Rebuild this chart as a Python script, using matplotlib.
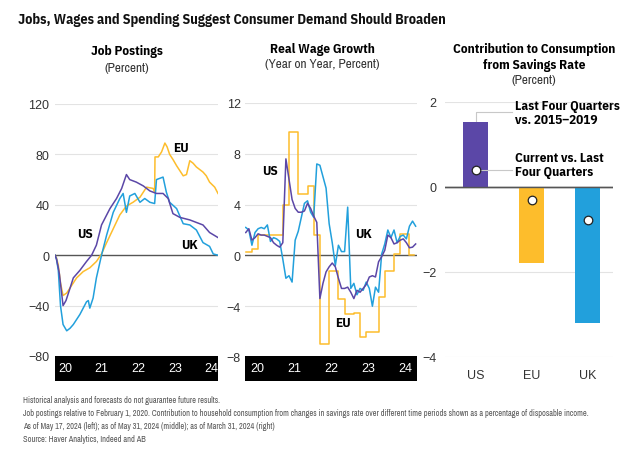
import matplotlib
matplotlib.use("Agg")
import matplotlib.pyplot as plt

plt.rcParams['font.family'] = ['Archivo Narrow', 'Liberation Sans', 'DejaVu Sans']
plt.rcParams['axes.unicode_minus'] = True
TICKFONT = ['Liberation Sans', 'DejaVu Sans']
BOLDFONT = ['IBM Plex Sans Condensed', 'Liberation Sans', 'DejaVu Sans']

PURPLE = '#5b47a7'
YELLOW = '#fdbd2c'
BLUE = '#22a0dc'
GRID = '#e3e3e3'
ZERO = '#555555'
TXT = '#333333'

# --- Job postings, percent vs Feb 1 2020 (x in decimal years) ---
us_jobs_t = [2020.03, 2020.07, 2020.12, 2020.15, 2020.25, 2020.33, 2020.42, 2020.53, 2020.71,
             2020.89, 2021.03, 2021.16, 2021.30, 2021.53, 2021.71, 2021.85, 2021.98, 2022.07,
             2022.25, 2022.44, 2022.62, 2022.80, 2022.98, 2023.12, 2023.25, 2023.44, 2023.71,
             2023.89, 2024.07, 2024.25, 2024.48]
us_jobs = [0, -3, -10, -15, -40, -36, -28, -18, -12, -5, 0, 8, 24, 37, 45, 53, 64, 60,
           58, 55, 51, 49, 49, 45, 33, 30, 28, 26, 24, 18, 14]

eu_jobs_t = [2020.03, 2020.07, 2020.12, 2020.18, 2020.25, 2020.35, 2020.44, 2020.62, 2020.80,
             2020.98, 2021.16, 2021.30, 2021.44, 2021.62, 2021.80, 2021.98, 2022.16, 2022.35,
             2022.53, 2022.71, 2022.75, 2022.76, 2022.85, 2022.94, 2023.03, 2023.09, 2023.16,
             2023.25, 2023.35, 2023.53, 2023.62, 2023.71, 2023.80, 2023.89, 2024.07, 2024.16,
             2024.25, 2024.39, 2024.48]
eu_jobs = [0, -2, -8, -22, -32, -30, -26, -18, -13, -10, -5, 1, 10, 21, 32, 39, 42, 46,
           54, 53, 50, 78, 78, 82, 89, 86, 80, 76, 71, 63, 64, 75, 73, 70, 66, 63, 58, 54, 49]

uk_jobs_t = [2020.03, 2020.07, 2020.12, 2020.18, 2020.25, 2020.35, 2020.44, 2020.53, 2020.71,
             2020.89, 2020.94, 2020.98, 2021.07, 2021.16, 2021.30, 2021.44, 2021.62, 2021.80,
             2021.89, 2021.98, 2022.07, 2022.21, 2022.35, 2022.48, 2022.62, 2022.75, 2022.80,
             2022.98, 2023.07, 2023.16, 2023.35, 2023.53, 2023.71, 2023.89, 2024.07, 2024.25,
             2024.35, 2024.48]
uk_jobs = [0, -3, -12, -40, -55, -60, -58, -55, -47, -37, -36, -42, -34, -18, 0, 16, 34, 45,
           49, 34, 47, 49, 42, 45, 42, 41, 60, 62, 50, 42, 37, 25, 24, 20, 10, 7, 1, 0]

# --- Real wage growth, YoY percent (monthly from Jan 2020) ---
us_wage = [1.8, 2.1, 1.2, 1.4, 1.7, 1.6, 1.6, 1.5, 1.4, 1.0, 0.8, 0.65, 1.0, 7.6, 6.0, 4.4,
           3.7, 3.4, 3.4, 3.5, 4.1, 3.7, 3.1, 2.6, -3.4, -2.2, -1.3, -0.9, -0.6, -0.9, -1.8,
           -2.6, -2.6, -2.5, -2.9, -3.4, -2.75, -2.9, -2.6, -2.3, -1.7, -1.6, -1.7, -0.5, -0.1,
           0.4, 1.6, 1.4, 0.9, 1.0, 1.2, 1.3, 1.0, 0.6, 0.65, 0.9]
uk_wage = [2.2, 2.0, 0.8, 1.8, 2.1, 2.2, 2.1, 2.4, 1.1, 1.4, 1.3, 1.1, -0.3, -1.8, -1.6, -2.1,
           1.2, 1.9, 3.0, 4.1, 4.3, 3.4, 3.0, 7.2, 7.1, 6.2, 5.3, 2.5, 1.0, -0.8, 0.8, 0.3, 0.3,
           3.8, -2.6, -2.2, -3.1, -2.6, -2.75, -2.1, -2.6, -4.0, -2.5, -2.9, 0.1, 0.9, 2.0, 1.4,
           2.0, 1.0, 1.5, 1.6, 1.3, 2.3, 2.7, 2.3]
# EU is a step series: month index where each level starts
eu_wage_m = [0, 2, 4, 12, 14, 17, 20, 22, 24, 27, 30, 32, 35, 37, 39, 43, 45, 48, 50, 53, 54.4]
eu_wage = [0.3, 0.5, 1.6, 4.0, 9.75, 4.8, 5.5, 1.6, -7.0, -1.2, -3.4, -4.6, -4.5, -6.4, -6.0,
           -3.3, -1.2, 0.1, 1.7, 0.0, 0.0]

# --- Contribution to consumption from savings rate ---
regions = ['US', 'EU', 'UK']
last4_vs_2015_19 = [1.52, -1.79, -3.2]
current_vs_last4 = [0.4, -0.31, -0.78]
bar_colors = [PURPLE, YELLOW, BLUE]

year_labels = ['20', '21', '22', '23', '24']
years = [2020, 2021, 2022, 2023, 2024]

fig = plt.figure(figsize=(6.4, 4.6), dpi=100)


def px_axes(x0, y0, x1, y1):
    return fig.add_axes([x0 / 640, 1 - y1 / 460, (x1 - x0) / 640, (y1 - y0) / 460])


def fmt(v):
    return ('%g' % v).replace('-', '\u2212')


def style(ax, ticks, pad):
    for s in ax.spines.values():
        s.set_visible(False)
    ax.set_yticks(ticks)
    ax.set_yticklabels([fmt(t) for t in ticks], family=TICKFONT)
    ax.tick_params(axis='y', length=0, pad=pad, labelsize=9, labelcolor=TXT)
    ax.tick_params(axis='x', length=0, labelbottom=False)
    for t in ticks:
        if t != 0:
            ax.axhline(t, color=GRID, lw=0.8, zorder=0)
    ax.axhline(0, color=ZERO, lw=1.0, zorder=1)


def band(x0, x1, xlim):
    b = px_axes(x0, 357, x1, 382)
    b.set_facecolor('black')
    b.set_xlim(xlim)
    b.set_ylim(0, 1)
    b.set_xticks([])
    b.set_yticks([])
    for s in b.spines.values():
        s.set_visible(False)
    for y, lab in zip(years, year_labels):
        b.text(y + 0.3, 0.5, lab, color='white', fontsize=9, ha='center', va='center',
               family=TICKFONT)


def label(ax, x, y, s):
    ax.text(x, y, s, fontsize=9.5, fontweight='bold', family=BOLDFONT, ha='center', va='center')


# Panel 1: job postings
ax1 = px_axes(55, 105, 218, 357)
xl1 = (2020.03, 2024.48)
ax1.plot(eu_jobs_t, eu_jobs, color=YELLOW, lw=1.1, zorder=3)
ax1.plot(uk_jobs_t, uk_jobs, color=BLUE, lw=1.1, zorder=4)
ax1.plot(us_jobs_t, us_jobs, color=PURPLE, lw=1.1, zorder=5)
ax1.set_xlim(xl1)
ax1.set_ylim(-80, 120)
style(ax1, [-80, -40, 0, 40, 80, 120], 4)
label(ax1, 2023.48, 85.5, 'EU')
label(ax1, 2020.85, 17.6, 'US')
label(ax1, 2023.69, 8.7, 'UK')
band(55, 218, xl1)

# Panel 2: real wage growth
ax2 = px_axes(245, 104, 417, 358)
xl2 = (2019.98, 2024.62)
eu_t = [2020 + m / 12 for m in eu_wage_m]
us_t = [2020 + m / 12 for m in range(len(us_wage))]
uk_t = [2020 + m / 12 for m in range(len(uk_wage))]
ax2.plot(eu_t, eu_wage, color=YELLOW, lw=1.1, drawstyle='steps-post', zorder=3)
ax2.plot(uk_t, uk_wage, color=BLUE, lw=1.1, zorder=4)
ax2.plot(us_t, us_wage, color=PURPLE, lw=1.1, zorder=5)
ax2.set_xlim(xl2)
ax2.set_ylim(-8, 12)
style(ax2, [-8, -4, 0, 4, 8, 12], 3)
label(ax2, 2020.66, 6.7, 'US')
label(ax2, 2023.18, 1.75, 'UK')
label(ax2, 2022.62, -5.3, 'EU')
band(245, 417, xl2)

# Panel 3: savings rate contribution
ax3 = px_axes(445, 103, 613, 358)
xs = range(len(regions))
ax3.bar(xs, last4_vs_2015_19, width=0.45, color=bar_colors, zorder=2)
ax3.scatter(xs, current_vs_last4, s=38, color='white', edgecolors='#222222',
            linewidths=0.9, zorder=4)
ax3.set_xlim(-0.55, 2.45)
ax3.set_ylim(-4, 2)
style(ax3, [-4, -2, 0, 2], 6)
ax3.axhline(0, color=ZERO, lw=1.0, zorder=3)
ax3.set_xticks(list(xs))
ax3.set_xticklabels(regions, family=TICKFONT)
ax3.tick_params(axis='x', labelbottom=True, pad=9, labelsize=9, labelcolor=TXT)
# leader lines to the annotations
ax3.plot([0, 0, 0.64], [last4_vs_2015_19[0], 1.76, 1.76], color='#c8c8c8', lw=0.8, zorder=1)
ax3.plot([0, 0.64], [current_vs_last4[0], current_vs_last4[0]], color='#c8c8c8', lw=0.8, zorder=3)
ax3.text(0.7, 1.76, 'Last Four Quarters\nvs. 2015\u20132019', fontsize=9.5, fontweight='bold',
         family=BOLDFONT, ha='left', va='center', linespacing=1.1)
ax3.text(0.7, 0.52, 'Current vs. Last\nFour Quarters', fontsize=9.5, fontweight='bold',
         family=BOLDFONT, ha='left', va='center', linespacing=1.1)

# Titles
fig.text(18 / 640, 1 - 20 / 460, 'Jobs, Wages and Spending Suggest Consumer Demand Should Broaden',
         fontsize=10.2, fontweight='bold', family=BOLDFONT, ha='left', va='center', color='#111111')
fig.text(127 / 640, 1 - 52 / 460, 'Job Postings', fontsize=9.5, fontweight='bold', family=BOLDFONT,
         ha='center', va='center')
fig.text(127 / 640, 1 - 68 / 460, '(Percent)', fontsize=9.5, ha='center', va='center', color=TXT)
fig.text(322 / 640, 1 - 50 / 460, 'Real Wage Growth', fontsize=9.5, fontweight='bold', family=BOLDFONT,
         ha='center', va='center')
fig.text(322 / 640, 1 - 64 / 460, '(Year on Year, Percent)', fontsize=9.5, ha='center', va='center', color=TXT)
fig.text(534 / 640, 1 - 50 / 460, 'Contribution to Consumption', fontsize=9.5, fontweight='bold',
         family=BOLDFONT, ha='center', va='center')
fig.text(534 / 640, 1 - 65 / 460, 'from Savings Rate', fontsize=9.5, fontweight='bold', family=BOLDFONT,
         ha='center', va='center')
fig.text(534 / 640, 1 - 80 / 460, '(Percent)', fontsize=9.5, ha='center', va='center', color=TXT)

notes = [
    'Historical analysis and forecasts do not guarantee future results.',
    'Job postings relative to February 1, 2020. Contribution to household consumption from changes in savings rate '
    'over different time periods shown as a percentage of disposable income.',
    'As of May 17, 2024 (left); as of May 31, 2024 (middle); as of March 31, 2024 (right)',
    'Source: Haver Analytics, Indeed and AB',
]
for i, n in enumerate(notes):
    fig.text(23 / 640, 1 - (401 + 12.7 * i) / 460, n, fontsize=6.0, ha='left', va='center', color='#555555')

fig.savefig('out.png', dpi=100)
